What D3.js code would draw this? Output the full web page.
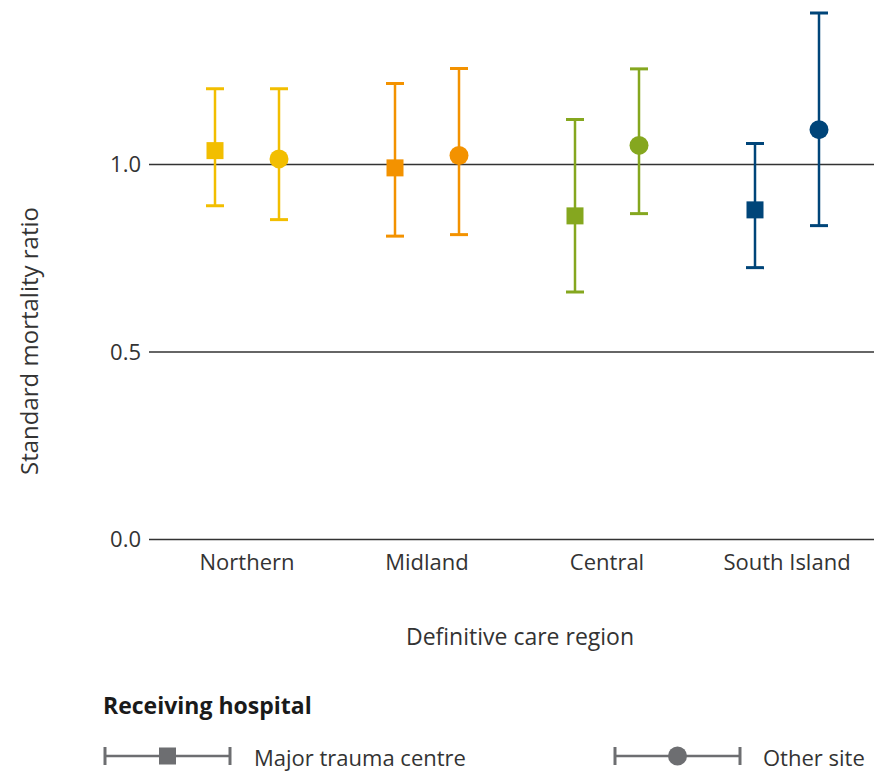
<!DOCTYPE html>
<html>
<head>
<meta charset="utf-8">
<script src="https://cdn.jsdelivr.net/npm/d3@7/dist/d3.min.js"></script>
<style>
  html, body { margin: 0; padding: 0; background: #fff; }
  svg { display: block; font-family: "Open Sans", "Noto Sans", sans-serif; }
</style>
</head>
<body>
<svg id="chart" width="874" height="771"></svg>
<script>
// Definitive care regions
const regions = ["Northern", "Midland", "Central", "South Island"];
const regionColors = ["#F2BE00", "#F39200", "#85A71F", "#004579"];

// Major trauma centre: standard mortality ratio with confidence interval
const mtcValue = [1.037, 0.991, 0.863, 0.879];
const mtcLower = [0.890, 0.809, 0.660, 0.725];
const mtcUpper = [1.202, 1.216, 1.120, 1.056];

// Other site: standard mortality ratio with confidence interval
const otherValue = [1.015, 1.024, 1.051, 1.093];
const otherLower = [0.853, 0.813, 0.869, 0.837];
const otherUpper = [1.202, 1.256, 1.255, 1.404];

const yTicks = [0.0, 0.5, 1.0];

const svg = d3.select("#chart");
const textColor = "#333333";
const legendGrey = "#6D6E71";

const x = d3.scaleBand().domain(regions).range([157, 877]);
const y = d3.scaleLinear().domain([0, 1.4]).range([539.5, 14.5]);

const series = [
  { name: "Major trauma centre", shape: "square", offset: -32, value: mtcValue, lower: mtcLower, upper: mtcUpper },
  { name: "Other site", shape: "circle", offset: 32, value: otherValue, lower: otherLower, upper: otherUpper }
];

// Horizontal reference lines at each y tick
const yAxis = d3.axisLeft(y).tickValues(yTicks).tickFormat(d3.format(".1f")).tickSize(0).tickPadding(8);
const gy = svg.append("g").attr("transform", "translate(149,0)").call(yAxis);
gy.select(".domain").remove();
gy.selectAll("text").attr("font-size", 22).attr("fill", textColor).attr("font-family", "Open Sans, sans-serif");

svg.append("g").selectAll("line").data(yTicks).join("line")
  .attr("x1", 149).attr("x2", 874)
  .attr("y1", d => y(d)).attr("y2", d => y(d))
  .attr("stroke", "#333").attr("stroke-width", 1.5);

// Category axis labels
const xAxis = d3.axisBottom(x).tickSize(0).tickPadding(15);
const gx = svg.append("g").attr("transform", `translate(0,${y(0)})`).call(xAxis);
gx.select(".domain").remove();
gx.selectAll("text").attr("font-size", 22).attr("fill", textColor).attr("font-family", "Open Sans, sans-serif");

// Axis titles
svg.append("text")
  .attr("x", 520).attr("y", 645)
  .attr("text-anchor", "middle").attr("font-size", 23).attr("fill", textColor)
  .text("Definitive care region");

svg.append("text")
  .attr("transform", "translate(38,341) rotate(-90)")
  .attr("text-anchor", "middle").attr("font-size", 24).attr("fill", textColor)
  .text("Standard mortality ratio");

// Error bars and point markers
const capHalf = 9;
series.forEach(s => {
  const g = svg.append("g");
  regions.forEach((r, i) => {
    const cx = x(r) + x.bandwidth() / 2 + s.offset;
    const col = regionColors[i];
    g.append("line")
      .attr("x1", cx).attr("x2", cx)
      .attr("y1", y(s.lower[i])).attr("y2", y(s.upper[i]))
      .attr("stroke", col).attr("stroke-width", 2.5);
    [s.lower[i], s.upper[i]].forEach(v => {
      g.append("line")
        .attr("x1", cx - capHalf).attr("x2", cx + capHalf)
        .attr("y1", y(v)).attr("y2", y(v))
        .attr("stroke", col).attr("stroke-width", 3);
    });
    if (s.shape === "square") {
      g.append("rect")
        .attr("x", cx - 8.5).attr("y", y(s.value[i]) - 8.5)
        .attr("width", 17).attr("height", 17)
        .attr("fill", col);
    } else {
      g.append("circle")
        .attr("cx", cx).attr("cy", y(s.value[i])).attr("r", 9.5)
        .attr("fill", col);
    }
  });
});

// Legend
svg.append("text")
  .attr("x", 103).attr("y", 714)
  .attr("font-size", 23).attr("font-weight", "bold").attr("fill", "#1a1a1a")
  .text("Receiving hospital");

const legendItems = [
  { name: "Major trauma centre", shape: "square", x0: 105, x1: 230, tx: 254 },
  { name: "Other site", shape: "circle", x0: 615, x1: 740, tx: 763 }
];
const ly = 756;
legendItems.forEach(item => {
  const g = svg.append("g");
  g.append("line").attr("x1", item.x0).attr("x2", item.x1).attr("y1", ly).attr("y2", ly)
    .attr("stroke", legendGrey).attr("stroke-width", 2.5);
  [item.x0, item.x1].forEach(xx => {
    g.append("line").attr("x1", xx).attr("x2", xx).attr("y1", ly - 9).attr("y2", ly + 9)
      .attr("stroke", legendGrey).attr("stroke-width", 3);
  });
  const mx = (item.x0 + item.x1) / 2;
  if (item.shape === "square") {
    g.append("rect").attr("x", mx - 8.5).attr("y", ly - 8.5).attr("width", 17).attr("height", 17).attr("fill", legendGrey);
  } else {
    g.append("circle").attr("cx", mx).attr("cy", ly).attr("r", 9.5).attr("fill", legendGrey);
  }
  g.append("text").attr("x", item.tx).attr("y", ly + 10)
    .attr("font-size", 22).attr("fill", textColor).text(item.name);
});
</script>
</body>
</html>
